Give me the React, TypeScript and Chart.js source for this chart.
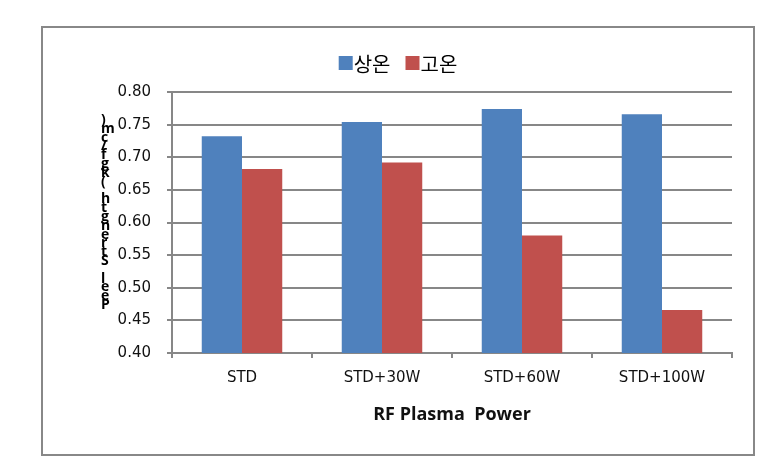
import React, { useEffect, useRef } from 'react';
import { Chart, registerables } from 'chart.js';

Chart.register(...registerables);

const categories = ['STD', 'STD+30W', 'STD+60W', 'STD+100W'];
const roomTemp = [0.732, 0.754, 0.774, 0.766];
const highTemp = [0.682, 0.692, 0.58, 0.466];
const seriesLabels = ['상온', '고온'];
const seriesColors = ['#4F81BD', '#C0504D'];
const yMin = 0.4;
const yMax = 0.8;
const yStep = 0.05;
const xTitle = 'RF Plasma  Power';
const yTitle = 'Peel Strength (kgf/cm)';

const GRID = '#878787';

const framePlugin = {
  id: 'frame',
  beforeDraw(chart: any) {
    const ctx = chart.ctx;
    ctx.save();
    ctx.fillStyle = '#ffffff';
    ctx.fillRect(0, 0, chart.width, chart.height);
    ctx.strokeStyle = '#888888';
    ctx.lineWidth = 2;
    ctx.strokeRect(42, 27, 712, 428);
    ctx.restore();
  },
};

const legendPlugin = {
  id: 'customLegend',
  afterDraw(chart: any) {
    const ctx = chart.ctx;
    ctx.save();
    ctx.font = '20px "Noto Sans CJK KR"';
    const box = 14;
    const gap = 1;
    const itemGap = 15;
    const items = chart.data.datasets.map((d: any) => ({
      label: d.label,
      color: d.backgroundColor,
      w: ctx.measureText(d.label).width,
    }));
    let total = 0;
    items.forEach((it: any, i: number) => {
      total += box + gap + it.w + (i < items.length - 1 ? itemGap : 0);
    });
    let x = 398 - total / 2;
    const cy = 63;
    items.forEach((it: any) => {
      ctx.fillStyle = it.color;
      ctx.fillRect(x, cy - 7, box, 14);
      ctx.fillStyle = '#000000';
      ctx.textAlign = 'left';
      ctx.textBaseline = 'middle';
      ctx.fillText(it.label, x + box + gap, cy + 1);
      x += box + gap + it.w + itemGap;
    });
    ctx.restore();
  },
};

const yTitlePlugin = {
  id: 'stackedYTitle',
  afterDraw(chart: any) {
    const ctx = chart.ctx;
    ctx.save();
    ctx.font = 'bold 14px "Open Sans"';
    ctx.fillStyle = '#000000';
    ctx.textAlign = 'left';
    ctx.textBaseline = 'middle';
    const chars = yTitle.split('');
    const bottomY = 305;
    const topY = 120;
    const step = (bottomY - topY) / (chars.length - 1);
    chars.forEach((c, i) => {
      ctx.fillText(c, 101, bottomY - i * step);
    });
    ctx.restore();
  },
};

export default function App() {
  const ref = useRef<HTMLCanvasElement | null>(null);

  useEffect(() => {
    if (!ref.current) return;
    const chart = new Chart(ref.current, {
      type: 'bar',
      data: {
        labels: categories,
        datasets: [
          { label: seriesLabels[0], data: roomTemp, backgroundColor: seriesColors[0], borderWidth: 0 },
          { label: seriesLabels[1], data: highTemp, backgroundColor: seriesColors[1], borderWidth: 0 },
        ],
      },
      options: {
        responsive: false,
        animation: false,
        devicePixelRatio: 1,
        layout: { padding: { left: 60, right: 37, top: 92, bottom: 47 } },
        datasets: {
          bar: { categoryPercentage: 0.575, barPercentage: 1 },
        },
        plugins: {
          legend: { display: false },
          tooltip: { enabled: false },
        },
        scales: {
          x: {
            offset: true,
            afterFit(scale: any) {
              scale.height = 73;
            },
            grid: {
              display: true,
              drawOnChartArea: false,
              drawTicks: true,
              tickLength: 5,
              color: GRID,
              lineWidth: 2,
              offset: true,
            },
            border: { display: true, color: GRID, width: 2 },
            ticks: {
              color: '#111111',
              font: { family: '"DejaVu Sans"', size: 15 },
              padding: 11,
              maxRotation: 0,
            },
            title: {
              display: true,
              text: xTitle,
              color: '#111111',
              font: { family: '"Open Sans"', size: 18, weight: 'bold' },
              padding: 0,
            },
          },
          y: {
            min: yMin,
            max: yMax,
            afterFit(scale: any) {
              scale.width = 112;
            },
            grid: {
              display: true,
              drawOnChartArea: true,
              drawTicks: true,
              tickLength: 5,
              color: GRID,
              lineWidth: 2,
            },
            border: { display: true, color: GRID, width: 2 },
            ticks: {
              stepSize: yStep,
              color: '#111111',
              font: { family: '"DejaVu Sans"', size: 15 },
              padding: 16,
              callback: (v: any) => Number(v).toFixed(2),
            },
          },
        },
      },
      plugins: [framePlugin, legendPlugin, yTitlePlugin],
    });
    return () => chart.destroy();
  }, []);

  return (
    <div style={{ position: 'absolute', left: 0, top: 0, width: 769, height: 473 }}>
      <canvas ref={ref} width={769} height={473} style={{ display: 'block' }} />
    </div>
  );
}
